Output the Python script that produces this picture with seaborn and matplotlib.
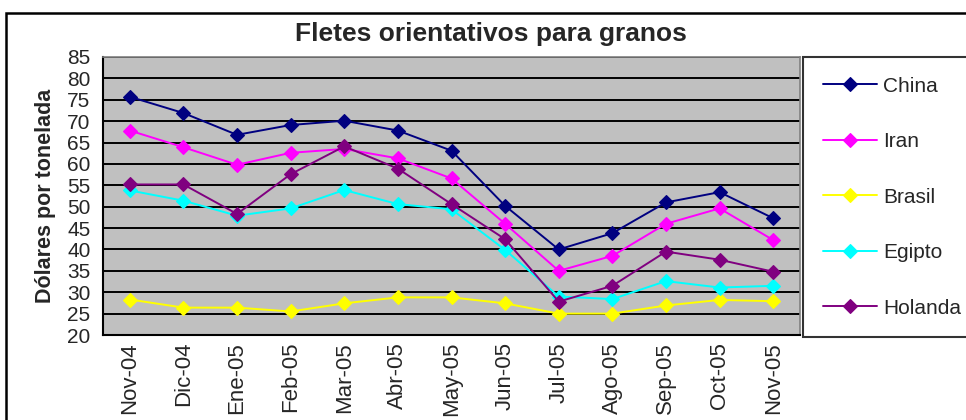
import numpy as np
import pandas as pd
import matplotlib
matplotlib.use("Agg")
import matplotlib.pyplot as plt
import seaborn as sns
from matplotlib.patches import Rectangle

# Data
meses = ["Nov-04", "Dic-04", "Ene-05", "Feb-05", "Mar-05", "Abr-05", "May-05",
         "Jun-05", "Jul-05", "Ago-05", "Sep-05", "Oct-05", "Nov-05"]
china = [75.7, 71.9, 66.8, 69.1, 70.1, 67.8, 63.1, 50.2, 40.0, 43.8, 51.0, 53.4, 47.3]
iran = [67.8, 63.9, 59.8, 62.6, 63.5, 61.3, 56.6, 46.0, 35.0, 38.5, 46.0, 49.6, 42.2]
brasil = [28.3, 26.4, 26.4, 25.5, 27.4, 28.8, 28.8, 27.4, 25.0, 25.0, 26.9, 28.2, 27.9]
egipto = [53.8, 51.4, 47.9, 49.6, 53.9, 50.6, 49.4, 39.9, 29.0, 28.4, 32.6, 31.1, 31.5]
holanda = [55.2, 55.2, 48.3, 57.6, 64.1, 58.9, 50.6, 42.4, 27.8, 31.5, 39.5, 37.6, 34.8]

series = {"China": china, "Iran": iran, "Brasil": brasil,
          "Egipto": egipto, "Holanda": holanda}
colores = {"China": "#000080", "Iran": "#FF00FF", "Brasil": "#FFFF00",
           "Egipto": "#00FFFF", "Holanda": "#800080"}

sns.set_style("white")
plt.rcParams['font.family'] = ['Liberation Sans', 'DejaVu Sans']

fig = plt.figure(figsize=(9.66, 4.2), dpi=100)
ax = fig.add_axes([103/966, 1 - 335/420, 697/966, 278/420])
ax.set_facecolor("#C0C0C0")

x = np.arange(len(meses))
for nombre, vals in series.items():
    sns.lineplot(x=x, y=vals, ax=ax, color=colores[nombre], label=nombre,
                 marker="D", markersize=7.5, markeredgewidth=0.8,
                 markeredgecolor=colores[nombre], linewidth=1.4, sort=False)

ax.set_xlim(-0.5, len(meses) - 0.5)
ax.set_ylim(20, 85)
ax.set_yticks(np.arange(20, 86, 5))
ax.set_xticks(x)
ax.set_xticklabels(meses, rotation=90, fontsize=16)
ax.set_xticks(np.arange(-0.5, len(meses), 1), minor=True)
ax.tick_params(axis="x", which="major", length=0, pad=5)
ax.tick_params(axis="x", which="minor", length=7, width=1.3, color="black", direction="out")
ax.tick_params(axis="y", length=6, width=1.3, color="black", direction="out",
               labelsize=15, pad=3)
ax.yaxis.grid(True, color="black", linewidth=1.4)
ax.set_axisbelow(True)
for s in ["left", "bottom"]:
    ax.spines[s].set_color("black")
    ax.spines[s].set_linewidth(1.5)
for s in ["top", "right"]:
    ax.spines[s].set_color("#808080")
    ax.spines[s].set_linewidth(1.2)

ax.set_xlabel("")
ax.set_ylabel("Dólares por tonelada", fontsize=15.5, fontweight="bold", labelpad=8)

fig.text(491/966, 1 - 34/420, "Fletes orientativos para granos", ha="center",
         va="center", fontsize=19, fontweight="bold")

leg = ax.legend(loc="upper left", bbox_to_anchor=(803/966, 1 - 57/420),
                bbox_transform=fig.transFigure, borderaxespad=0, frameon=True,
                fancybox=False, fontsize=15, handlelength=2.6, handletextpad=0.3,
                labelspacing=1.75, borderpad=0.95)
leg.get_frame().set_edgecolor("black")
leg.get_frame().set_linewidth(1.5)

# outer chart border
fig.patches.append(Rectangle((6/966, -0.1), 1.2, 1 - 13/420 + 0.1,
                             transform=fig.transFigure, fill=False,
                             edgecolor="black", linewidth=1.8))

fig.savefig("out.png", dpi=100)
